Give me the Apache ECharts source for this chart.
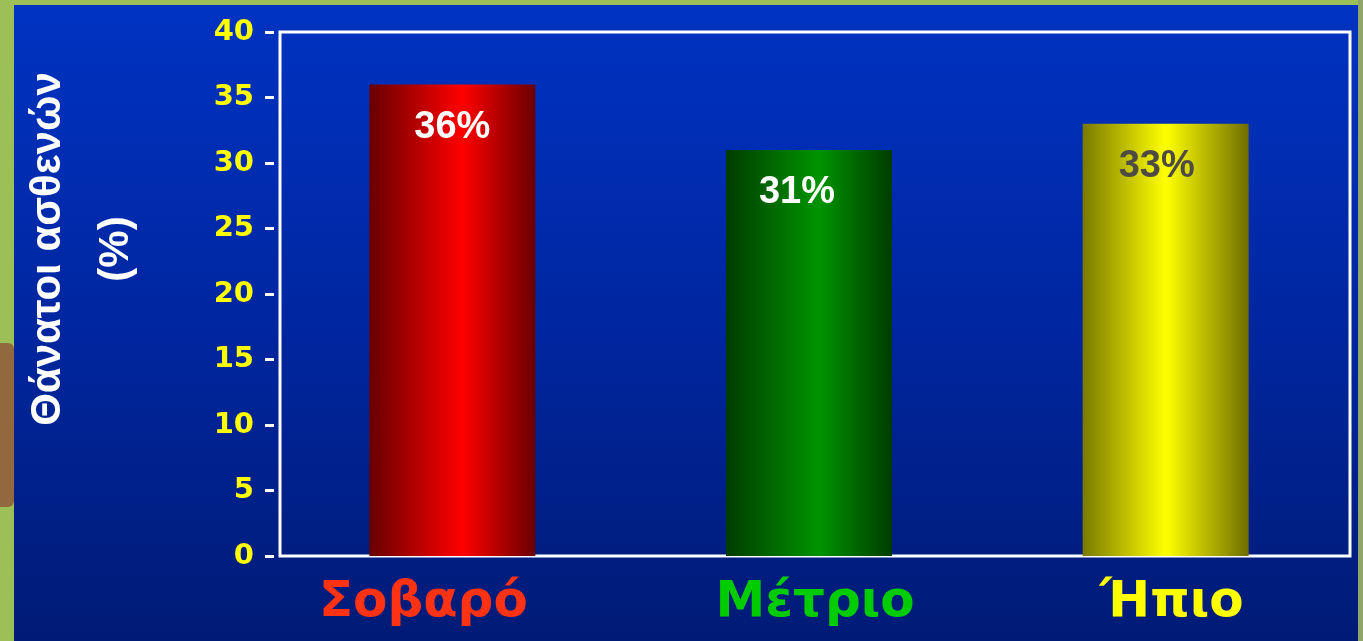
<!DOCTYPE html>
<html>
<head>
<meta charset="utf-8">
<style>
  html, body { margin: 0; padding: 0; background: #9cbf58; }
  #chart { width: 1363px; height: 641px; }
</style>
<script src="https://cdn.jsdelivr.net/npm/echarts@6/dist/echarts.min.js"></script>
</head>
<body>
<div id="chart"></div>
<script>
// Patient deaths (%) by severity
const categories = ['Σοβαρό', 'Μέτριο', 'Ήπιο'];
const deaths = [36, 31, 33];
const yTicks = [0, 5, 10, 15, 20, 25, 30, 35, 40];

const labelKeys = ['sev', 'mod', 'mild'];
const labelColors = ['#ff3214', '#00cc00', '#ffff00'];
const valueLabelColors = ['#ffffff', '#ffffff', '#4e4a44'];
const valueLabelShift = [[0, 0], [-12, 0], [-9, 0]];

function barGradient(edgeL, mid, edgeR, stop) {
  return new echarts.graphic.LinearGradient(0, 0, 1, 0, [
    { offset: 0, color: edgeL },
    { offset: stop, color: mid },
    { offset: 1, color: edgeR }
  ]);
}
const barFills = [
  barGradient('#680000', '#ff0000', '#6a0000', 0.56),
  barGradient('#003c00', '#009400', '#003c00', 0.56),
  barGradient('#7a7a00', '#ffff00', '#6e6e00', 0.5)
];

const labelFont = '"DejaVu Sans", sans-serif';

const chart = echarts.init(document.getElementById('chart'), null, { renderer: 'canvas' });

chart.setOption({
  backgroundColor: '#9cbf58',
  animation: false,
  graphic: [
    {
      type: 'rect', z: -10, silent: true,
      shape: { x: 14, y: 5, width: 1344, height: 636 },
      style: {
        fill: new echarts.graphic.LinearGradient(0, 0, 0, 1, [
          { offset: 0, color: '#0033c2' },
          { offset: 0.5, color: '#0026a0' },
          { offset: 1, color: '#001b76' }
        ])
      }
    },
    {
      type: 'rect', z: -10, silent: true,
      shape: { x: 1358, y: 0, width: 5, height: 641 },
      style: { fill: '#8fa56a' }
    },
    {
      type: 'rect', z: -10, silent: true,
      shape: { x: -6, y: 343, width: 20, height: 164, r: 6 },
      style: { fill: '#92683f' }
    },
    {
      type: 'text', z: 10, silent: true,
      x: 82, y: 249, rotation: Math.PI / 2,
      style: {
        text: 'Θάνατοι ασθενών\n(%)',
        fill: '#ffffff',
        font: 'bold 42px "Liberation Sans", Arial, sans-serif',
        align: 'center',
        verticalAlign: 'middle',
        lineHeight: 68
      }
    }
  ],
  grid: [
    {
      // framed plot area carrying the visible axes
      left: 280, right: 13, top: 32, bottom: 85,
      show: true,
      borderColor: '#ffffff',
      borderWidth: 3,
      backgroundColor: 'transparent'
    },
    {
      // bars sit slightly left of the category centres
      left: 274, right: 19, top: 32, bottom: 85
    }
  ],
  xAxis: [
    {
      gridIndex: 0,
      type: 'category',
      data: categories,
      axisLine: { show: false },
      axisTick: { show: false },
      axisLabel: {
        margin: 22,
        formatter: function (value, idx) {
          return '{' + labelKeys[idx] + '|' + value + '}';
        },
        rich: {
          sev: { color: labelColors[0], fontSize: 50, fontWeight: 'bold', fontFamily: labelFont, padding: [0, 70, 0, 0] },
          mod: { color: labelColors[1], fontSize: 50, fontWeight: 'bold', fontFamily: labelFont },
          mild: { color: labelColors[2], fontSize: 50, fontWeight: 'bold', fontFamily: labelFont }
        }
      }
    },
    {
      gridIndex: 1,
      type: 'category',
      data: categories,
      show: false
    }
  ],
  yAxis: [
    {
      gridIndex: 0,
      type: 'value',
      min: yTicks[0],
      max: yTicks[yTicks.length - 1],
      interval: 5,
      offset: 6,
      splitLine: { show: false },
      axisLine: { show: false },
      axisTick: { show: true, length: 9, lineStyle: { color: '#ffffff', width: 3 } },
      axisLabel: {
        margin: 20,
        color: '#ffff00',
        fontSize: 29,
        fontWeight: 'bold',
        fontFamily: labelFont
      }
    },
    {
      gridIndex: 1,
      type: 'value',
      min: yTicks[0],
      max: yTicks[yTicks.length - 1],
      show: false,
      splitLine: { show: false }
    }
  ],
  series: [{
    type: 'bar',
    xAxisIndex: 1,
    yAxisIndex: 1,
    barWidth: 166,
    data: deaths.map(function (v, i) {
      return {
        value: v,
        itemStyle: { color: barFills[i] },
        label: { color: valueLabelColors[i], offset: valueLabelShift[i] }
      };
    }),
    label: {
      show: true,
      position: 'insideTop',
      distance: 24,
      formatter: '{c}%',
      fontSize: 38,
      fontWeight: 'bold',
      fontFamily: '"Liberation Sans", Arial, sans-serif'
    }
  }]
});
</script>
</body>
</html>
